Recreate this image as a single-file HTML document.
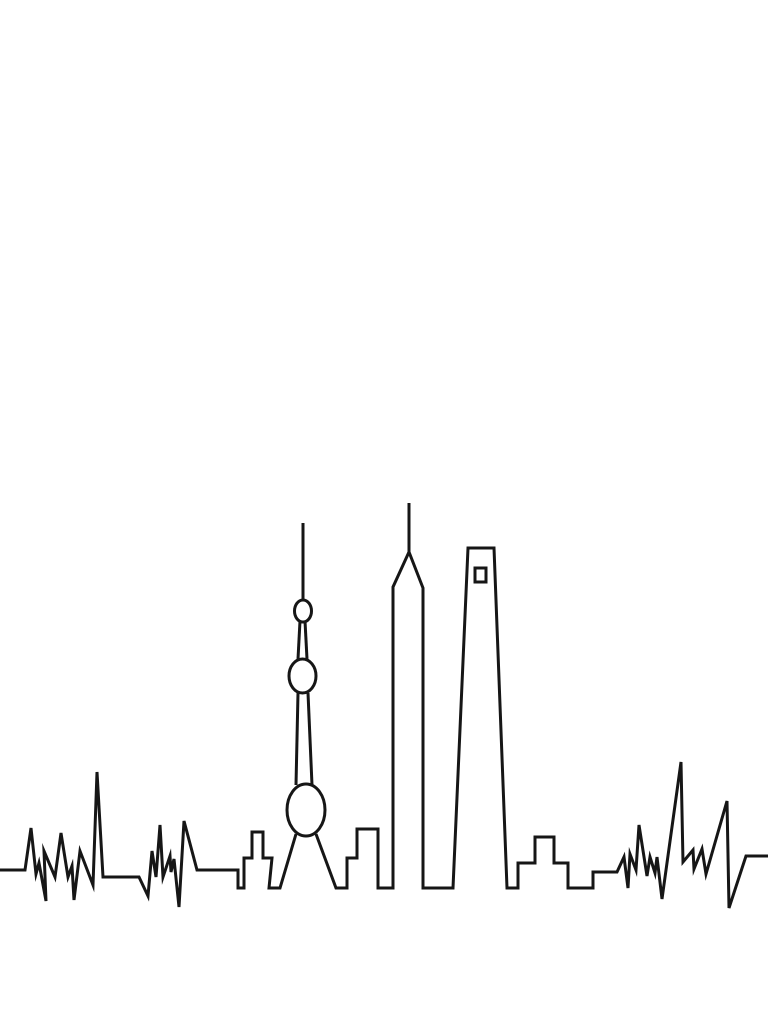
<!DOCTYPE html>
<html><head><meta charset="utf-8"><style>html,body{margin:0;padding:0;background:#fff}svg{display:block}</style></head>
<body>
<svg width="768" height="1024" viewBox="0 0 768 1024" xmlns="http://www.w3.org/2000/svg">
<g fill="none" stroke="#161616" stroke-width="3" stroke-linejoin="miter" stroke-miterlimit="6">
<polyline points="0,870 25,870 31,828 36,874 39,863 46,901 44,851 55,877 61,833 68,877 72,866 74,900 80,851 93,885 97,772 103,877 139,877 148,896 152,851 156,877 160,825 163,877 170,856 171,872 174,859 179,907 184,821 197,870 238,870 238,888 244,888 244,858 252,858 252,832 263,832 263,858 272,858 269,888 280,888 296,834"/>
<polyline points="316,834 336,888 347,888 347,858 357,858 357,829 378,829 378,888 393,888 393,587 409,552 423,588 423,888 453,888 468,548 494,548 507,888 518,888 518,863 535,863 535,837 554,837 554,863 568,863 568,888 593,888 593,872 617,872 624,857 628,888 630,854 636,870 639,825 647,876 650,857 655,873 657,857 662,899 681,762 683,862 693,850 694,869 702,849 706,874 727,801 729,908 746,856 768,856"/>
<line x1="409" y1="503" x2="409" y2="552"/>
<rect x="475" y="568" width="11" height="14"/>
<ellipse cx="306" cy="810" rx="19" ry="26"/>
<ellipse cx="302.5" cy="676" rx="13.5" ry="17"/>
<ellipse cx="303" cy="611" rx="8.5" ry="11"/>
<line x1="296" y1="785" x2="298" y2="693"/>
<line x1="312" y1="785" x2="308" y2="693"/>
<line x1="298" y1="659" x2="300" y2="621"/>
<line x1="307" y1="659" x2="305" y2="621"/>
<line x1="303" y1="523" x2="303" y2="600"/>
</g>
</svg>
</body></html>
